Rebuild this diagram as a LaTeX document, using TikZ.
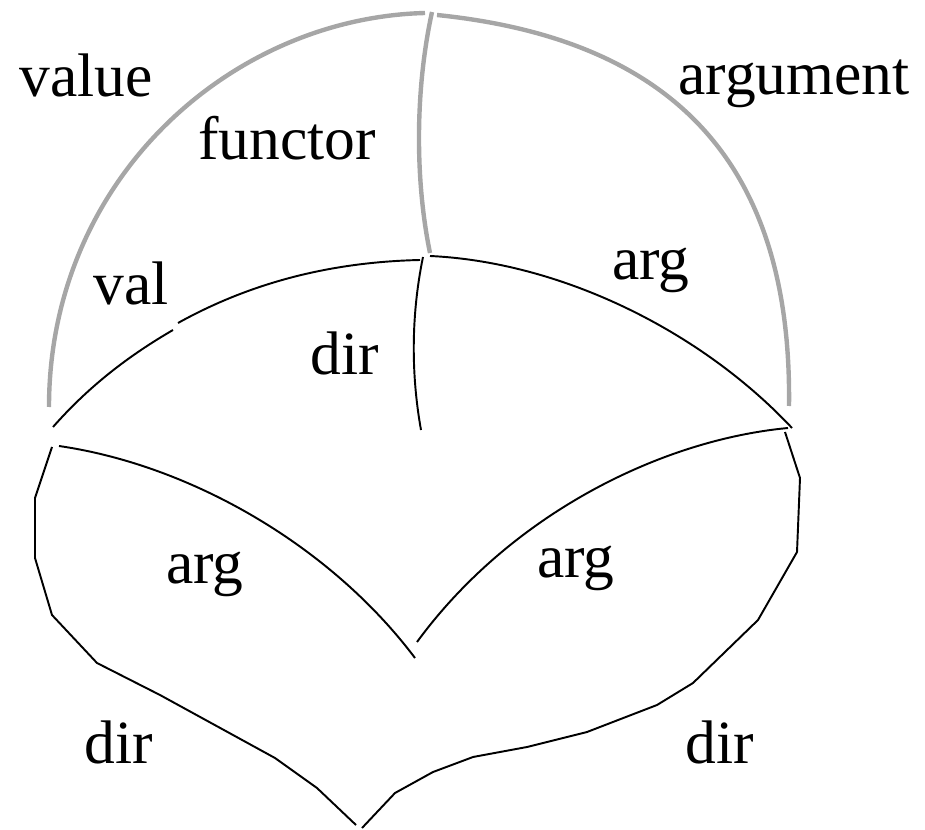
\documentclass[tikz,border=0pt]{standalone}
\usepackage{fontspec}
\setmainfont{Liberation Serif}
\usepackage{tikz}
\usepackage[svgnames]{xcolor}

\definecolor{outergray}{HTML}{A6A6A6}

\begin{document}
\begin{tikzpicture}[
            x=0.02cm, y=-0.02cm,
            outer/.style={color=outergray, line width=2.5pt},
            inner/.style={color=black, line width=1.1pt},
            lbl/.style={anchor=base, inner sep=0pt, font=\fontsize{35}{40}\selectfont}
        ]
            \useasboundingbox (0, 0) rectangle (925, 830);

            % outer (gray) arcs
            \draw[outer] (49, 407) .. controls (49, 180) and (230, 18) .. (425, 13);
            \draw[outer] (437, 15) .. controls (680, 40) and (792, 170) .. (789, 406);
            \draw[outer] (432, 12) .. controls (415, 90) and (415, 180) .. (430, 253);

            % inner arcs
            \draw[inner] (53, 427) .. controls (90, 385) and (130, 355) .. (173, 330);
            \draw[inner] (178, 323) .. controls (250, 283) and (330, 262) .. (420, 260);
            \draw[inner] (430, 256) .. controls (560, 262) and (700, 330) .. (792, 428);
            \draw[inner] (423, 257) .. controls (410, 320) and (412, 380) .. (421, 430);

            % lower arg curves
            \draw[inner] (59, 446) .. controls (190, 465) and (330, 545) .. (415, 658);
            \draw[inner] (788, 428) .. controls (660, 440) and (510, 515) .. (417, 642);

            % lower outline
            \draw[inner] (52, 447) -- (35, 498) -- (35, 558) -- (52, 615) -- (97, 663)
                -- (160, 695) -- (275, 758) -- (317, 788) -- (356, 825);
            \draw[inner] (785, 432) -- (800, 478) -- (797, 552) -- (758, 620) -- (693, 683)
                -- (657, 705) -- (587, 732) -- (527, 747) -- (473, 757) -- (433, 772)
                -- (395, 793) -- (362, 828);

            % labels
            \node[lbl] (value) at (86, 97) {value};
            \node[lbl] (functor) at (287, 160) {functor};
            \node[lbl] (argument) at (794, 95) {argument};
            \node[lbl] (val) at (131, 305) {val};
            \node[lbl] (dirtop) at (345, 375) {dir};
            \node[lbl] (argtop) at (651, 280) {arg};
            \node[lbl] (argleft) at (205, 583) {arg};
            \node[lbl] (argright) at (576, 577) {arg};
            \node[lbl] (dirleft) at (119, 763) {dir};
            \node[lbl] (dirright) at (720, 763) {dir};

        \end{tikzpicture}
\end{document}
